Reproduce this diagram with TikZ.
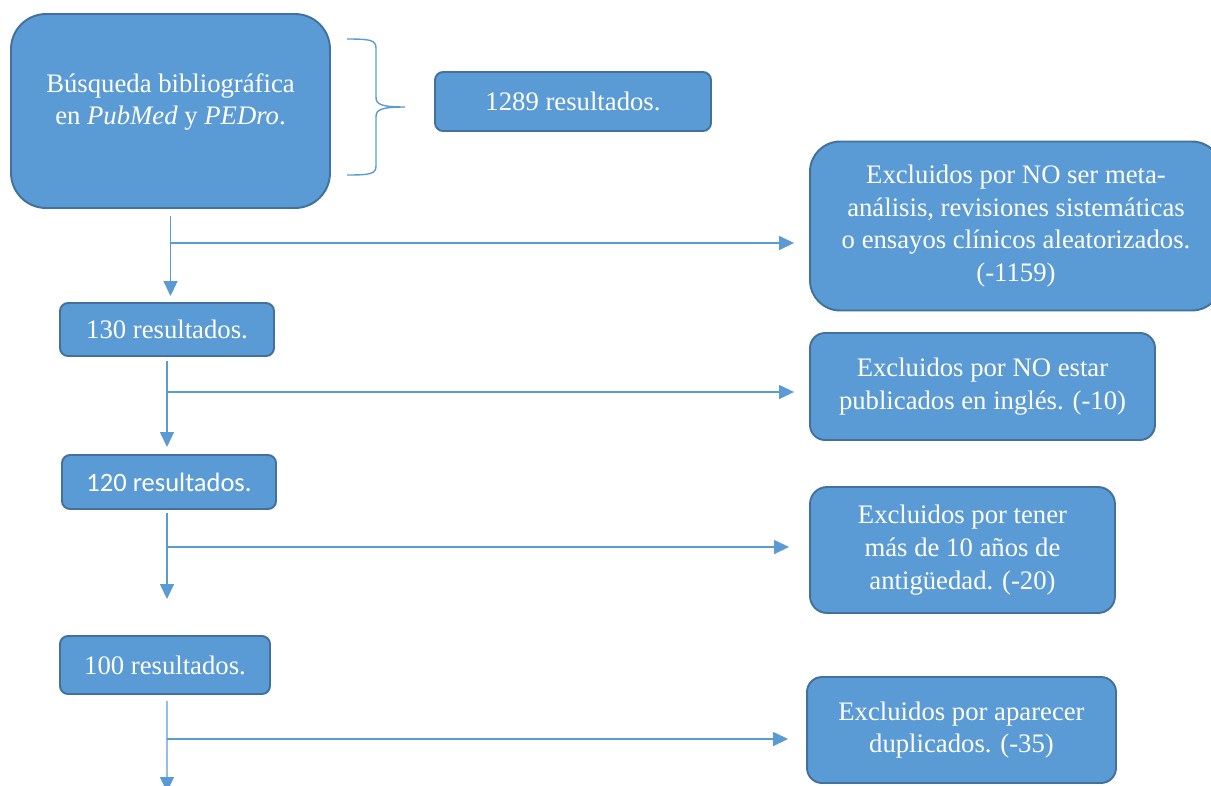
\documentclass[tikz,border=0pt]{standalone}
\usepackage{fontspec}
\setmainfont{Liberation Serif}
\newfontfamily\calibri{Carlito}
\usetikzlibrary{arrows.meta}
\definecolor{boxblue}{RGB}{91,155,213}
\definecolor{boxedge}{RGB}{65,113,156}

\begin{document}
\begin{tikzpicture}[x=0.02cm, y=-0.02cm,
    txt/.style={text=white, align=center, inner sep=0pt, font=\fontsize{15.2}{18.6}\selectfont},
    box/.style={txt, rectangle, draw=boxedge, fill=boxblue, line width=1.1pt},
    small/.style={box, rounded corners=0.16cm, minimum height=1.1cm},
    flow/.style={draw=boxblue, line width=0.8pt, -{Triangle[length=0.3cm, width=0.28cm]}},
]
    \useasboundingbox (0,0) rectangle (1211,785);

    \node[box, minimum width=6.38cm, minimum height=3.88cm, rounded corners=0.7cm] (search) at (170.5,111) {};
    \node[txt] (searchtxt) at (170.5,102) {Búsqueda bibliográfica\\en \textit{PubMed} y \textit{PEDro}.};
    \node[small, minimum width=5.52cm, minimum height=1.18cm] (res1289) at (573,101.5) {1289 resultados.};
    \node[small, minimum width=4.28cm, minimum height=1.06cm] (res130) at (167,329.5) {130 resultados.};
    \node[small, minimum width=4.28cm, minimum height=1.08cm, font=\calibri\fontsize{15.1}{18}\selectfont] (res120) at (169,482) {120 resultados.};
    \node[small, minimum width=4.2cm, minimum height=1.16cm] (res100) at (165,665) {100 resultados.};

    \node[box, minimum width=8.24cm, minimum height=3.38cm, rounded corners=0.6cm] (excl1) at (1016,226) {Excluidos por NO ser meta-\\análisis, revisiones sistemáticas\\o ensayos clínicos aleatorizados.\\(-1159)};
    \node[box, minimum width=6.9cm, minimum height=2.14cm, rounded corners=0.3cm] (excl2) at (982.5,386.5) {Excluidos por NO estar\\publicados en inglés. (-10)};
    \node[box, minimum width=6.1cm, minimum height=2.52cm, rounded corners=0.34cm] (excl3) at (962.5,550) {Excluidos por tener\\más de 10 años de\\antigüedad. (-20)};
    \node[box, minimum width=6.18cm, minimum height=2.12cm, rounded corners=0.3cm] (excl4) at (961.5,730) {Excluidos por aparecer\\duplicados. (-35)};

    \coordinate (bracetop) at (347,39);
    \coordinate (bracetip) at (405,107);
    \coordinate (bracebot) at (347,175);
    \draw[boxblue, line width=0.8pt] (bracetop) .. controls (370,39) and (376,40) .. (376,48) -- (376,97)
        .. controls (376,104) and (380,107) .. (bracetip)
        .. controls (380,107) and (376,110) .. (376,117) -- (376,166)
        .. controls (376,174) and (370,175) .. (bracebot);

    \draw[flow, shorten <=0.14cm, shorten >=0.12cm] (search.south) -- (search.south |- res130.north);
    \draw[flow, shorten <=0.08cm, shorten >=0.14cm] (res130.south) -- (res130.south |- res120.north);
    \draw[flow, shorten <=0.06cm, shorten >=0.72cm] ([xshift=-0.04cm]res120.south) -- ([xshift=-0.04cm]res120.south |- res100.north);
    \coordinate (end4) at (167,792);
    \draw[flow, shorten <=0.12cm] ([xshift=0.04cm]res100.south) -- (end4);

    \coordinate (j1) at (170,243);
    \coordinate (j2) at (168,392);
    \coordinate (j3) at (167,547);
    \coordinate (j4) at (167,739);
    \draw[flow, shorten >=0.3cm] (j1) -- (j1 -| excl1.west);
    \draw[flow, shorten >=0.3cm] (j2) -- (j2 -| excl2.west);
    \draw[flow, shorten >=0.4cm] (j3) -- (j3 -| excl3.west);
    \draw[flow, shorten >=0.36cm] (j4) -- (j4 -| excl4.west);
\end{tikzpicture}
\end{document}
